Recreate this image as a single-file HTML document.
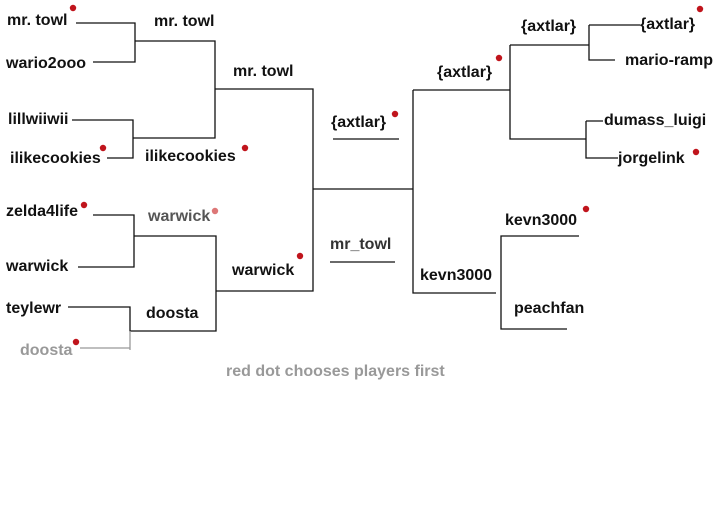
<!DOCTYPE html>
<html><head><meta charset="utf-8"><style>
html,body{margin:0;padding:0;background:#fff;}
svg{display:block;}
text{font-family:"Liberation Sans",Arial,sans-serif;font-weight:bold;font-size:16px;fill:#111;}
</style></head><body>
<svg width="720" height="532" viewBox="0 0 720 532" xmlns="http://www.w3.org/2000/svg">
<g stroke="#111" stroke-width="1.3" fill="none">
<path d="M76 23H135V62H93M135 41H215V138H133M72 120H133V158H107M215 89H313V291H216"/>
<path d="M93 215H134V267H78M134 236H216V331H130V307H68"/>
<path d="M130 331V350" stroke="#999"/><path d="M80 348H130" stroke="#999"/>
<path d="M313 189H413M413 90V293H496M413 90H510V139H586M510 45V90M510 45H589V60H615M589 25V45M589 25H640M586 121V158H618M586 121H603"/>
<path d="M579 236H501V329H567M333 139H399M330 262H395"/>
</g>
<text x="7" y="25">mr. towl</text>
<text x="6" y="68">wario2ooo</text>
<text x="154" y="26">mr. towl</text>
<text x="233" y="76">mr. towl</text>
<text x="8" y="124">lillwiiwii</text>
<text x="10" y="163">ilikecookies</text>
<text x="145" y="161">ilikecookies</text>
<text x="6" y="216">zelda4life</text>
<text x="148" y="221" style="fill:#555">warwick</text>
<text x="6" y="271">warwick</text>
<text x="232" y="275">warwick</text>
<text x="6" y="313">teylewr</text>
<text x="146" y="318">doosta</text>
<text x="20" y="355" style="fill:#999">doosta</text>
<text x="226" y="376" style="fill:#999">red dot chooses players first</text>
<text x="331" y="127">{axtlar}</text>
<text x="330" y="249" style="fill:#333">mr_towl</text>
<text x="437" y="77">{axtlar}</text>
<text x="521" y="31">{axtlar}</text>
<text x="640" y="29">{axtlar}</text>
<text x="625" y="65">mario-ramp</text>
<text x="604" y="125">dumass_luigi</text>
<text x="618" y="163">jorgelink</text>
<text x="505" y="225">kevn3000</text>
<text x="420" y="280">kevn3000</text>
<text x="514" y="313">peachfan</text>
<g fill="#c0141c">
<circle cx="73" cy="8" r="3.2"/><circle cx="103" cy="148" r="3.2"/><circle cx="84" cy="205" r="3.2"/>
<circle cx="245" cy="148" r="3.2"/><circle cx="215" cy="211" r="3.2" fill="#d77"/><circle cx="300" cy="256" r="3.2"/>
<circle cx="76" cy="342" r="3.2"/><circle cx="395" cy="114" r="3.2"/><circle cx="499" cy="58" r="3.2"/>
<circle cx="586" cy="209" r="3.2"/><circle cx="700" cy="9" r="3.2"/><circle cx="696" cy="152" r="3.2"/>
</g>
</svg>
</body></html>
